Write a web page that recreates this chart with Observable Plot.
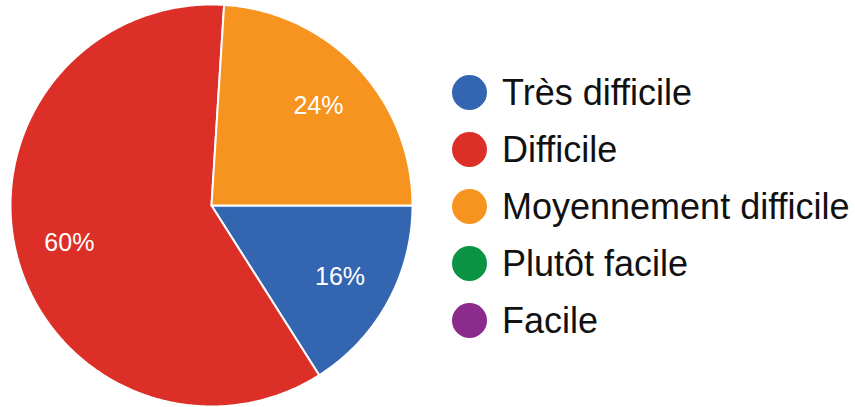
<!DOCTYPE html>
<html>
<head>
<meta charset="utf-8">
<script src="https://cdn.jsdelivr.net/npm/d3@7"></script>
<script src="https://cdn.jsdelivr.net/npm/@observablehq/plot@0.6"></script>
<style>
  html, body { margin: 0; padding: 0; background: #fff; }
  #wrap { position: relative; width: 855px; height: 407px; overflow: hidden; font-family: "Liberation Sans", Arial, sans-serif; }
  #legend { position: absolute; left: 452px; top: 64px; }
  .row { display: flex; align-items: center; height: 57px; margin-top: 0; }
  .row .sw { width: 35px; height: 35px; border-radius: 50%; flex: none; }
  .row .lb { margin-left: 15px; font-size: 36px; color: #111; white-space: nowrap; letter-spacing: 0; }
</style>
</head>
<body>
<div id="wrap"><div id="chart"></div><div id="legend"></div></div>
<script>
const categories = ["Très difficile", "Difficile", "Moyennement difficile", "Plutôt facile", "Facile"];
const values = [16, 60, 24, 0, 0];
const colors = ["#3465b1", "#db2f27", "#f7941f", "#0b9344", "#8b2b8c"];
const startAngleDeg = 90;

const total = d3.sum(values);
// slice polygons (unit circle), computed from values
const poly = [];
const labels = [];
let a0 = startAngleDeg * Math.PI / 180;
categories.forEach((name, i) => {
  const v = values[i];
  if (v <= 0) return;
  const span = v / total * 2 * Math.PI;
  const a1 = a0 + span;
  poly.push({name, x: 0, y: 0});
  const n = Math.max(2, Math.ceil(span / (Math.PI / 360)));
  for (let k = 0; k <= n; k++) {
    const a = a0 + span * k / n;
    poly.push({name, x: Math.sin(a), y: Math.cos(a)});
  }
  poly.push({name, x: 0, y: 0});
  const am = (a0 + a1) / 2;
  labels.push({name, x: 0.73 * Math.sin(am), y: 0.73 * Math.cos(am), text: Math.round(v / total * 100) + "%"});
  a0 = a1;
});

const chart = Plot.plot({
  width: 855,
  height: 407,
  margin: 0,
  style: {background: "#fff", fontFamily: "'Liberation Sans', Arial, sans-serif"},
  x: {domain: [-1, 1], range: [10, 412], axis: null},
  y: {domain: [-1, 1], range: [406, 4], axis: null},
  color: {domain: categories, range: colors},
  marks: [
    Plot.line(poly, {x: "x", y: "y", z: "name", fill: "name", stroke: "#fff", strokeWidth: 2, strokeLinejoin: "round", curve: "linear"}),
    Plot.text(labels, {x: "x", y: "y", text: "text", fill: "#fff", fontSize: 25, textAnchor: "middle", dy: 1})
  ]
});
document.getElementById("chart").appendChild(chart);

const legend = document.getElementById("legend");
categories.forEach((name, i) => {
  const row = document.createElement("div");
  row.className = "row";
  const sw = document.createElement("div");
  sw.className = "sw";
  sw.style.background = colors[i];
  const lb = document.createElement("div");
  lb.className = "lb";
  lb.textContent = name;
  row.appendChild(sw);
  row.appendChild(lb);
  legend.appendChild(row);
});
</script>
</body>
</html>
